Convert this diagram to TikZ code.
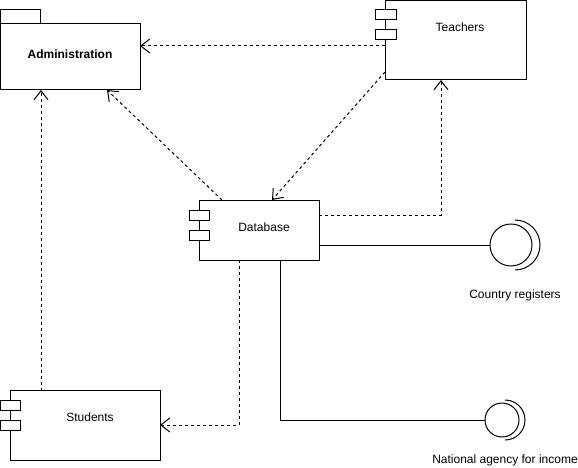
\documentclass[tikz,border=0pt]{standalone}
\usepackage{fontspec}
\setmainfont{Liberation Sans}
\usetikzlibrary{arrows.meta}
\begin{document}
\begin{tikzpicture}[x=1pt,y=-1pt,line width=1pt,
  box/.style={draw,fill=white},
  lbl/.style={font=\fontsize{12}{14}\selectfont,inner sep=0pt},
  dep/.style={draw,dash pattern=on 3pt off 3pt,-{Straight Barb[length=9pt,width=14pt]}},
  link/.style={draw}]
\useasboundingbox (0,0) rectangle (578,468);
% Administration package
\draw[box] (0.5,10) rectangle (40,24);
\draw[box] (0.5,24) rectangle (140,90);
\node[lbl,font=\fontsize{12}{14}\selectfont\bfseries] (adm) at (70,54) {Administration};
\coordinate (admR) at (140,46);
\coordinate (admB1) at (41,90);
\coordinate (admB2) at (107,90);
% Teachers
\draw[box] (385,0.5) rectangle (526,80);
\draw[box] (375,10) rectangle (396,20);
\draw[box] (375,30) rectangle (396,40);
\node[lbl] (tea) at (460,27) {Teachers};
\coordinate (teaL) at (385,46);
\coordinate (teaC) at (385,72);
\coordinate (teaB) at (441,80);
% Database
\draw[box] (199,200) rectangle (319,260);
\draw[box] (189,210) rectangle (209,220);
\draw[box] (189,230) rectangle (209,240);
\node[lbl] (db) at (264,227) {Database};
\coordinate (dbT1) at (222,200);
\coordinate (dbT2) at (272,200);
\coordinate (dbR1) at (319,215);
\coordinate (dbR2) at (319,245);
\coordinate (dbB1) at (239,260);
\coordinate (dbB2) at (280,260);
% Students
\draw[box] (10.7,390.5) rectangle (160,460);
\draw[box] (0.5,400) rectangle (20,410);
\draw[box] (0.5,420) rectangle (20,430);
\node[lbl] (stu) at (90,417) {Students};
\coordinate (stuT) at (41,390.5);
\coordinate (stuR) at (160,425);
% Interfaces
\draw (511,245) circle (21);
\draw (515,270) arc (90:-90:25);
\coordinate (cr) at (490,245);
\node[lbl] (crl) at (515,295) {Country registers};
\draw (502,420) circle (17);
\draw (505,440) arc (90:-90:20);
\coordinate (na) at (485,420);
\node[lbl] (nal) at (505,460) {National agency for income};
% connectors
\draw[dep] (teaL) -- (admR);
\draw[dep] (teaC) -- (dbT2);
\draw[dep] (dbT1) -- (admB2);
\draw[dep] (dbR1) -| (teaB);
\draw[dep] (stuT) -- (admB1);
\draw[dep] (dbB1) |- (stuR);
\draw[link] (dbR2) -- (cr);
\draw[link] (dbB2) |- (na);
\end{tikzpicture}
\end{document}
